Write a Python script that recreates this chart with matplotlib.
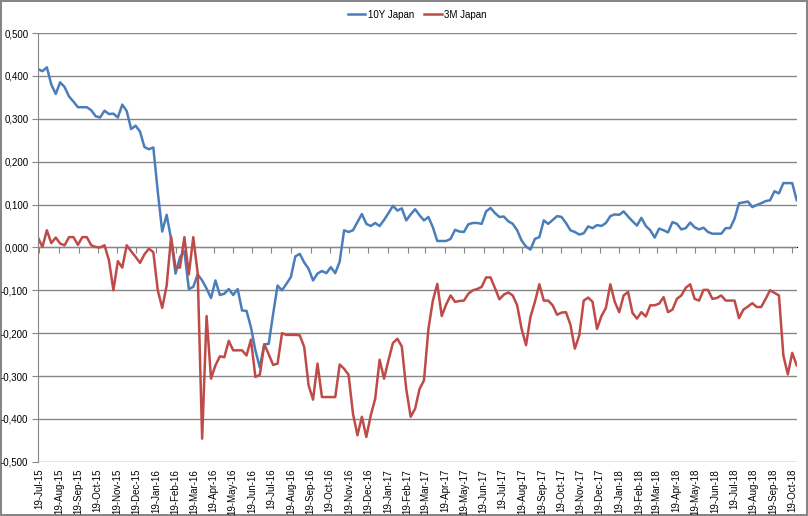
import numpy as np
import pandas as pd
import matplotlib
matplotlib.use("Agg")
import matplotlib.pyplot as plt
import matplotlib.dates as mdates
from matplotlib import ticker as tick

# weekly observations, Friday closes
dates = pd.date_range("2015-07-17", periods=172, freq="7D")

jgb_10y = [
    0.416, 0.411, 0.420, 0.380, 0.358, 0.385, 0.374, 0.352, 0.340, 0.327,
    0.327, 0.327, 0.320, 0.306, 0.303, 0.319, 0.311, 0.312, 0.303, 0.333,
    0.318, 0.276, 0.284, 0.270, 0.234, 0.229, 0.233, 0.130, 0.037, 0.076,
    0.020, -0.061, -0.023, -0.009, -0.097, -0.092, -0.063, -0.077, -0.096, -0.118,
    -0.077, -0.111, -0.108, -0.097, -0.111, -0.097, -0.147, -0.148, -0.186, -0.240,
    -0.280, -0.226, -0.225, -0.155, -0.089, -0.100, -0.085, -0.069, -0.021, -0.015,
    -0.035, -0.050, -0.077, -0.061, -0.055, -0.060, -0.046, -0.060, -0.033, 0.040,
    0.036, 0.040, 0.059, 0.078, 0.055, 0.050, 0.057, 0.050, 0.064, 0.080,
    0.097, 0.086, 0.091, 0.063, 0.077, 0.089, 0.075, 0.063, 0.071, 0.047,
    0.015, 0.015, 0.015, 0.020, 0.041, 0.037, 0.036, 0.054, 0.057, 0.057,
    0.055, 0.084, 0.092, 0.080, 0.071, 0.072, 0.061, 0.055, 0.040, 0.016,
    0.002, -0.005, 0.020, 0.024, 0.063, 0.055, 0.064, 0.073, 0.071, 0.057,
    0.040, 0.036, 0.030, 0.033, 0.049, 0.045, 0.052, 0.050, 0.057, 0.073,
    0.077, 0.076, 0.084, 0.072, 0.061, 0.051, 0.069, 0.050, 0.040, 0.023,
    0.044, 0.040, 0.035, 0.059, 0.055, 0.042, 0.045, 0.058, 0.047, 0.042,
    0.046, 0.036, 0.032, 0.032, 0.032, 0.045, 0.045, 0.067, 0.103, 0.105,
    0.107, 0.094, 0.099, 0.103, 0.108, 0.110, 0.131, 0.126, 0.150, 0.150,
    0.150, 0.110,
]

jgb_3m = [
    0.023, 0.001, 0.040, 0.010, 0.023, 0.009, 0.005, 0.024, 0.024, 0.006,
    0.024, 0.024, 0.005, 0.001, 0.000, 0.005, -0.030, -0.100, -0.032, -0.047,
    0.005, -0.009, -0.022, -0.036, -0.016, -0.003, -0.011, -0.100, -0.141, -0.089,
    0.024, -0.047, -0.047, 0.024, -0.063, 0.024, -0.060, -0.446, -0.160, -0.306,
    -0.275, -0.254, -0.256, -0.218, -0.240, -0.240, -0.240, -0.252, -0.215, -0.302,
    -0.297, -0.226, -0.249, -0.274, -0.271, -0.200, -0.204, -0.204, -0.204, -0.205,
    -0.232, -0.322, -0.355, -0.271, -0.349, -0.349, -0.349, -0.349, -0.273, -0.283,
    -0.297, -0.388, -0.438, -0.395, -0.442, -0.392, -0.353, -0.262, -0.306, -0.263,
    -0.223, -0.213, -0.231, -0.330, -0.395, -0.376, -0.330, -0.310, -0.190, -0.124,
    -0.085, -0.160, -0.133, -0.112, -0.127, -0.125, -0.124, -0.108, -0.100, -0.097,
    -0.092, -0.070, -0.070, -0.095, -0.121, -0.110, -0.105, -0.112, -0.135, -0.190,
    -0.228, -0.162, -0.127, -0.086, -0.124, -0.124, -0.135, -0.157, -0.152, -0.151,
    -0.180, -0.236, -0.205, -0.124, -0.117, -0.127, -0.190, -0.160, -0.141, -0.086,
    -0.127, -0.151, -0.112, -0.104, -0.153, -0.166, -0.151, -0.161, -0.135, -0.135,
    -0.131, -0.116, -0.151, -0.145, -0.120, -0.112, -0.094, -0.086, -0.120, -0.124,
    -0.099, -0.099, -0.120, -0.118, -0.112, -0.124, -0.124, -0.124, -0.165, -0.145,
    -0.138, -0.130, -0.139, -0.139, -0.120, -0.100, -0.106, -0.112, -0.252, -0.296,
    -0.246, -0.275,
]

yticks = np.arange(-0.5, 0.51, 0.1)

GRID = "#868686"
F = 7
plt.rcParams["font.family"] = ["Liberation Sans", "DejaVu Sans"]

fig = plt.figure(figsize=(8.08, 5.16), dpi=100)
fig.patch.set_edgecolor(GRID)
fig.patch.set_linewidth(1.5)
ax = fig.add_axes([0.047, 0.105, 0.939, 0.831])

ax.plot(dates, jgb_10y, color="#4A7EBB", lw=1.8, label="10Y Japan")
ax.plot(dates, jgb_3m, color="#BE4B48", lw=1.8, label="3M Japan")

ax.set_xlim(dates[0], dates[-1])
ax.set_ylim(-0.5, 0.5)
ax.set_yticks(yticks)
ax.yaxis.set_major_formatter(tick.FuncFormatter(lambda v, p: ("%.3f" % v).replace(".", ",").replace("-0,000", "0,000")))
ax.grid(axis="y", color=GRID, lw=1)
ax.set_axisbelow(True)

for side in ["top", "right", "bottom"]:
    ax.spines[side].set_visible(False)
ax.spines["left"].set_color(GRID)
ax.tick_params(axis="y", labelsize=F, length=4, color=GRID, pad=3)

ax.xaxis.set_major_locator(mdates.MonthLocator(bymonthday=19))
ax.xaxis.set_major_formatter(mdates.DateFormatter("%d-%b-%y"))
ax.tick_params(axis="x", labelsize=F, length=0, rotation=90, pad=5)

# horizontal axis crosses at zero, small ticks hang below it
sec = ax.secondary_xaxis(0.5)
sec.xaxis.set_major_locator(mdates.MonthLocator(bymonthday=19))
sec.xaxis.set_major_formatter(tick.NullFormatter())
sec.tick_params(axis="x", direction="in", length=4, color=GRID)
sec.spines["bottom"].set_color(GRID)
sec.spines["bottom"].set_linewidth(1)

ax.legend(loc="upper center", bbox_to_anchor=(0.5, 1.075), ncol=2, frameon=False,
          fontsize=F, handlelength=1.8, handletextpad=0.3, columnspacing=1.0)

plt.savefig("out.png", dpi=100)
